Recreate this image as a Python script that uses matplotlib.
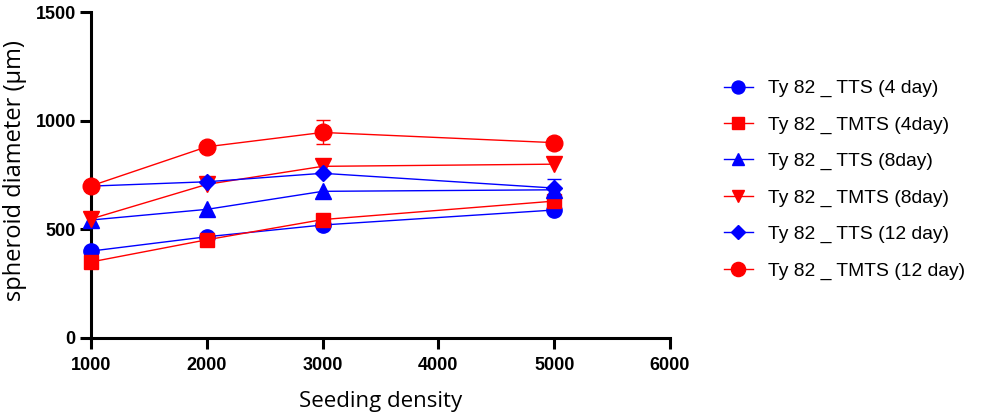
import matplotlib.pyplot as plt
from matplotlib.lines import Line2D

density = [1000, 2000, 3000, 5000]

tts_4 = [400, 466, 520, 589]
tmts_4 = [350, 452, 545, 630]
tts_8 = [543, 592, 675, 682]
tmts_8 = [548, 707, 790, 800]
tts_12 = [699, 719, 758, 690]
tmts_12 = [700, 880, 946, 899]

# only a few points have visible error bars
tts_12_err = [0, 0, 0, 44]
tmts_12_err = [0, 0, 55, 0]
tmts_4_err = [0, 0, 0, 18]

labels = ['Ty 82 _ TTS (4 day)', 'Ty 82 _ TMTS (4day)', 'Ty 82 _ TTS (8day)',
          'Ty 82 _ TMTS (8day)', 'Ty 82 _ TTS (12 day)', 'Ty 82 _ TMTS (12 day)']

blue = '#0000ff'
red = '#ff0000'

fig = plt.figure(figsize=(9.81, 4.16), dpi=100)
ax = fig.add_axes([0.0928, 0.1875, 0.5902, 0.7835])

series = [
    (tts_4, None, blue, 'o', 11),
    (tmts_4, tmts_4_err, red, 's', 10),
    (tts_8, None, blue, '^', 11),
    (tmts_8, None, red, 'v', 11),
    (tts_12, tts_12_err, blue, 'D', 8),
    (tmts_12, tmts_12_err, red, 'o', 12),
]

for vals, err, col, mk, ms in series:
    ax.errorbar(density, vals, yerr=err, color=col, marker=mk, markersize=ms,
                linewidth=1.0, elinewidth=1.0, capsize=5, capthick=1.0,
                clip_on=False, zorder=3)

ax.set_xlim(1000, 6000)
ax.set_ylim(0, 1500)
ax.set_xticks([1000, 2000, 3000, 4000, 5000, 6000])
ax.set_yticks([0, 500, 1000, 1500])
for s in ['top', 'right']:
    ax.spines[s].set_visible(False)
for s in ['left', 'bottom']:
    ax.spines[s].set_linewidth(2.2)
ax.tick_params(width=2.2, length=8, direction='out')
ax.tick_params(axis='x', pad=6)
ax.tick_params(axis='y', pad=3)
for t in ax.get_xticklabels() + ax.get_yticklabels():
    t.set_fontfamily('Liberation Sans')
    t.set_fontweight('bold')
    t.set_fontsize(13)

ax.set_xlabel('Seeding density', fontfamily='Open Sans', fontsize=16, labelpad=12)
ax.set_ylabel('spheroid diameter (µm)', fontfamily='Open Sans', fontsize=17)
ax.yaxis.set_label_coords(-0.111, 0.515)

handles = []
for (vals, err, col, mk, ms), lab in zip(series, labels):
    handles.append(Line2D([], [], color=col, marker=mk, markersize=ms * 0.85, linewidth=1.0))
fig.legend(handles, labels, loc='upper left', bbox_to_anchor=(0.72, 0.85),
           frameon=False, prop={'family': 'Liberation Sans', 'size': 13.9},
           handlelength=1.5, labelspacing=0.97, handletextpad=0.8)

fig.savefig('out.png', dpi=100)
